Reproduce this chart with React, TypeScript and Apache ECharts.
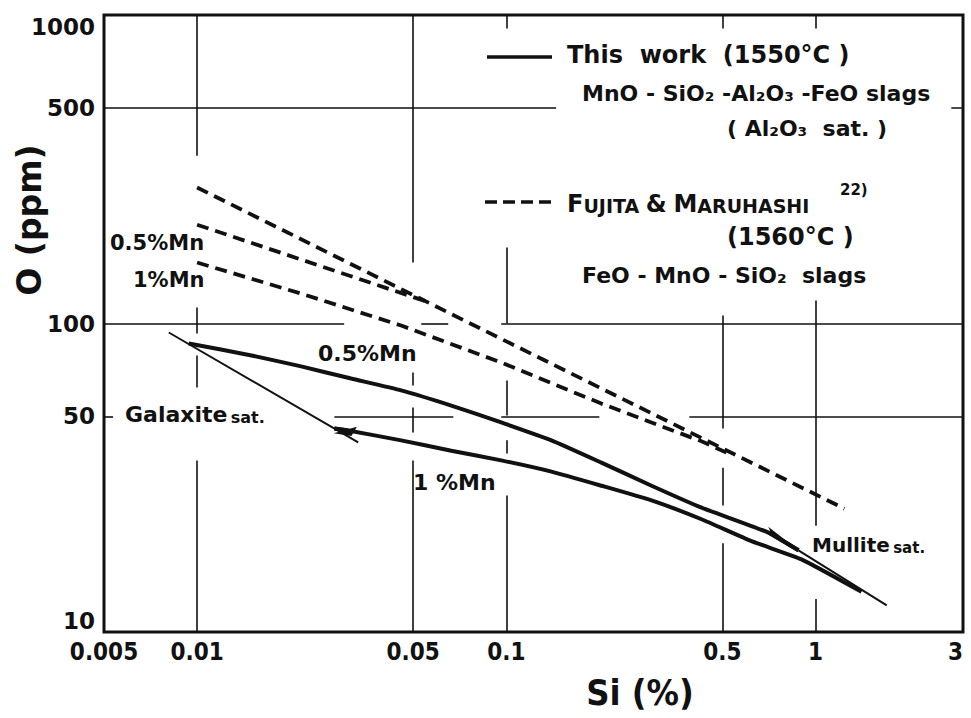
import React, { useEffect, useRef } from "react";
import * as echarts from "echarts";

// ---- axes ----
const xTickValues = [0.005, 0.01, 0.05, 0.1, 0.5, 1, 3];
const xTickLabels = ["0.005", "0.01", "0.05", "0.1", "0.5", "1", "3"];
const yTickValues = [10, 50, 100, 500, 1000];
const yTickLabels = ["10", "50", "100", "500", "1000"];

// ---- This work (1550°C), solid curves: Si (%) vs O (ppm) ----
const thisWork05MnSi = [0.0094, 0.015, 0.0217, 0.0315, 0.0457, 0.0664, 0.0963, 0.14, 0.203, 0.295, 0.428, 0.705, 0.881];
const thisWork05MnO = [86.1, 78.8, 72.6, 66.3, 60.7, 54.2, 47.8, 41.8, 35.4, 29.8, 25.3, 21.0, 18.4];

const thisWork1MnSi = [0.0278, 0.0308, 0.0457, 0.0664, 0.0963, 0.14, 0.203, 0.295, 0.428, 0.621, 0.901, 1.409];
const thisWork1MnO = [45.7, 45.0, 41.8, 38.7, 36.0, 33.1, 29.8, 26.7, 23.2, 19.7, 17.2, 13.5];

// saturation boundaries
const galaxiteSatSi = [0.0081, 0.0332];
const galaxiteSatO = [93.5, 41.2];
const mulliteSatSi = [0.881, 1.7];
const mulliteSatO = [18.4, 12.2];

// ---- Fujita & Maruhashi (1560°C), dashed curves ----
const fujitaTopSi = [0.01, 0.1, 1.24];
const fujitaTopO = [276, 87.5, 25.1];
const fujita05MnSi = [0.01, 0.055];
const fujita05MnO = [209, 118];
const fujita1MnSi = [0.01, 0.0217, 0.0457, 0.0964, 0.203, 0.428, 0.515];
const fujita1MnO = [157.6, 125, 98.5, 74.7, 55, 41.5, 38.2];

// ---- ruled grid pieces (the grid is interrupted around texts and curves) ----
// [axis the rule is fixed on, value, from, to]
const gridRules: [string, number, number, number][] = [
  ["y", 500, 0.005, 0.145],
  ["y", 500, 2.75, 3],
  ["y", 100, 0.005, 0.0299],
  ["y", 100, 0.0531, 0.0649],
  ["y", 100, 0.0963, 3],
  ["y", 50, 0.005, 0.00535],
  ["y", 50, 0.0278, 0.0674],
  ["y", 50, 0.0963, 0.2],
  ["y", 50, 0.391, 3],
  ["x", 0.01, 350, 1000],
  ["x", 0.01, 92.8, 112.7],
  ["x", 0.01, 62, 78.8],
  ["x", 0.01, 10, 36],
  ["x", 0.05, 157.7, 1000],
  ["x", 0.05, 63, 69.4],
  ["x", 0.05, 44.3, 53.4],
  ["x", 0.05, 10, 36],
  ["x", 0.1, 904, 1000],
  ["x", 0.1, 100, 176.4],
  ["x", 0.1, 50.3, 65.3],
  ["x", 0.1, 37.9, 41.8],
  ["x", 0.1, 10, 27.7],
  ["x", 0.5, 904, 1000],
  ["x", 0.5, 45.7, 106.2],
  ["x", 0.5, 25.7, 34.1],
  ["x", 0.5, 10, 19.4],
  ["x", 1, 904, 1000],
  ["x", 1, 22.1, 118.7],
  ["x", 1, 10, 12.8],
];

const FONT = "'DejaVu Sans', 'Noto Sans', sans-serif";
const NARROW = "'DejaVu Sans Condensed', 'Liberation Sans Narrow', 'DejaVu Sans', sans-serif";
const INK = "#111";

const pairs = (xs: number[], ys: number[]) => xs.map((x, i) => [x, ys[i]]);

// thin one-sided arrow heads (tip at the centre of the symbol box)
const harpoonLeftBarb = "path://M0,-38 M5,0 M0,0 L-5,38 L0,31 Z";
const harpoonRightBarb = "path://M0,-22 M5,0 M0,0 L5,22 L0,18 Z";

function text(x: number, y: number, str: string, size: number, extra: any = {}) {
  return {
    type: "text",
    x,
    y,
    silent: true,
    z: 20,
    style: {
      text: str,
      fill: INK,
      fontFamily: FONT,
      fontWeight: "bold",
      fontSize: size,
      align: "left",
      textAlign: "left",
      verticalAlign: "middle",
      textVerticalAlign: "middle",
      ...extra,
    },
  };
}

function arrowMark(from: number[], to: number[], symbol: string, size: number[]) {
  return {
    silent: true,
    animation: false,
    symbol: ["none", symbol],
    symbolSize: size,
    label: { show: false },
    emphasis: { disabled: true },
    lineStyle: { color: INK, width: 4, type: "solid" },
    itemStyle: { color: INK },
    data: [[{ coord: from }, { coord: to }]],
  };
}

export default function App() {
  const ref = useRef<HTMLDivElement>(null);

  useEffect(() => {
    if (!ref.current) return;
    const chart = echarts.init(ref.current, null, { renderer: "svg" });

    const up = pairs(thisWork05MnSi, thisWork05MnO);
    const low = pairs(thisWork1MnSi, thisWork1MnO);

    const ruleData = gridRules.map(([axis, v, a, b]) => ({
      coords: axis === "y" ? [[a, v], [b, v]] : [[v, a], [v, b]],
    }));

    const dashed = (name: string, xs: number[], ys: number[]) => ({
      name,
      type: "line",
      data: pairs(xs, ys),
      symbol: "none",
      showSymbol: false,
      silent: true,
      z: 4,
      lineStyle: { color: INK, width: 3.8, type: [12, 7] },
    });

    const thin = (name: string, xs: number[], ys: number[]) => ({
      name,
      type: "line",
      data: pairs(xs, ys),
      symbol: "none",
      showSymbol: false,
      silent: true,
      z: 4,
      lineStyle: { color: INK, width: 2 },
    });

    const option: any = {
      animation: false,
      backgroundColor: "#fff",
      grid: {
        left: 104,
        right: 8,
        top: 15,
        bottom: 86,
        show: true,
        borderColor: INK,
        borderWidth: 3,
        backgroundColor: "transparent",
      },
      xAxis: {
        type: "log",
        logBase: 10,
        min: 0.005,
        max: 3,
        axisLine: { show: false },
        axisTick: { show: false },
        splitLine: { show: false },
        minorSplitLine: { show: false },
        axisLabel: {
          customValues: xTickValues,
          formatter: (v: number) => {
            const i = xTickValues.findIndex((t) => Math.abs(t - v) / t < 1e-6);
            return i >= 0 ? xTickLabels[i] : "";
          },
          color: INK,
          fontFamily: NARROW,
          fontWeight: "bold",
          fontSize: 24,
          margin: 8,
          alignMaxLabel: "right",
        },
      },
      yAxis: {
        type: "log",
        logBase: 10,
        min: 10,
        max: 1000,
        axisLine: { show: false },
        axisTick: { show: false },
        splitLine: { show: false },
        minorSplitLine: { show: false },
        axisLabel: {
          customValues: yTickValues,
          formatter: (v: number) => {
            const i = yTickValues.findIndex((t) => Math.abs(t - v) / t < 1e-6);
            return i >= 0 ? yTickLabels[i] : "";
          },
          color: INK,
          fontFamily: FONT,
          fontWeight: "bold",
          fontSize: 23,
          margin: 9,
          verticalAlignMinLabel: "bottom",
          verticalAlignMaxLabel: "top",
        },
      },
      series: [
        {
          name: "grid rules",
          type: "lines",
          coordinateSystem: "cartesian2d",
          silent: true,
          z: 1,
          lineStyle: { color: INK, width: 1.6, opacity: 1 },
          data: ruleData,
        },
        dashed("Fujita upper", fujitaTopSi, fujitaTopO),
        dashed("Fujita 0.5%Mn", fujita05MnSi, fujita05MnO),
        dashed("Fujita 1%Mn", fujita1MnSi, fujita1MnO),
        thin("Galaxite sat.", galaxiteSatSi, galaxiteSatO),
        thin("Mullite sat.", mulliteSatSi, mulliteSatO),
        {
          name: "0.5%Mn",
          type: "line",
          data: up,
          symbol: "none",
          showSymbol: false,
          smooth: 0.15,
          silent: true,
          z: 5,
          lineStyle: { color: INK, width: 4 },
          markLine: arrowMark(up[up.length - 2], up[up.length - 1], harpoonLeftBarb, [10, 76]),
        },
        {
          name: "1%Mn",
          type: "line",
          data: low,
          symbol: "none",
          showSymbol: false,
          smooth: 0.15,
          silent: true,
          z: 5,
          lineStyle: { color: INK, width: 4 },
          markLine: arrowMark(low[1], low[0], harpoonRightBarb, [10, 44]),
        },
      ],
      graphic: [
        // axis titles
        text(29, 220, "O (ppm)", 33, { align: "center", textAlign: "center", rotation: 0 }),
        text(640, 692, "Si (%)", 36, { align: "center", textAlign: "center", fontFamily: NARROW }),

        // legend
        {
          type: "line",
          silent: true,
          z: 20,
          shape: { x1: 487, y1: 57, x2: 552, y2: 57 },
          style: { stroke: INK, lineWidth: 3.5 },
        },
        text(567, 55, "This  work  (1550°C )", 24),
        text(582, 93, "MnO - SiO₂ -Al₂O₃ -FeO slags", 22),
        text(727, 128, "( Al₂O₃  sat. )", 22),
        {
          type: "line",
          silent: true,
          z: 20,
          shape: { x1: 485, y1: 202, x2: 552, y2: 202 },
          style: { stroke: INK, lineWidth: 3.5, lineDash: [12, 6] },
        },
        {
          type: "text",
          x: 567,
          y: 202,
          silent: true,
          z: 20,
          style: {
            text: "{b|F}{s|UJITA}  {b|&}  {b|M}{s|ARUHASHI}",
            fill: INK,
            align: "left",
            textAlign: "left",
            verticalAlign: "middle",
            textVerticalAlign: "middle",
            rich: {
              b: { fontFamily: FONT, fontWeight: "bold", fontSize: 24, fill: INK, verticalAlign: "bottom", lineHeight: 27 },
              s: { fontFamily: FONT, fontWeight: "bold", fontSize: 19, fill: INK, verticalAlign: "bottom", lineHeight: 24 },
            },
          },
        },
        text(840, 190, "22)", 15),
        text(727, 237, "(1560°C )", 24),
        text(582, 275, "FeO - MnO - SiO₂  slags", 22),

        // curve annotations
        text(110, 243, "0.5%Mn", 21),
        text(133, 280, "1%Mn", 21),
        text(318, 353, "0.5%Mn", 22),
        text(413, 482, "1 %Mn", 22),
        {
          type: "text",
          x: 125,
          y: 412,
          silent: true,
          z: 20,
          style: {
            text: "{a|Galaxite} {b|sat.}",
            fill: INK,
            align: "left",
            textAlign: "left",
            verticalAlign: "middle",
            textVerticalAlign: "middle",
            rich: {
              a: { fontFamily: FONT, fontWeight: "bold", fontSize: 22, fill: INK, verticalAlign: "bottom", lineHeight: 26 },
              b: { fontFamily: FONT, fontWeight: "bold", fontSize: 16, fill: INK, verticalAlign: "bottom", lineHeight: 22 },
            },
          },
        },
        {
          type: "text",
          x: 812,
          y: 543,
          silent: true,
          z: 20,
          style: {
            text: "{a|Mullite} {b|sat.}",
            fill: INK,
            align: "left",
            textAlign: "left",
            verticalAlign: "middle",
            textVerticalAlign: "middle",
            rich: {
              a: { fontFamily: FONT, fontWeight: "bold", fontSize: 20, fill: INK, verticalAlign: "bottom", lineHeight: 24 },
              b: { fontFamily: FONT, fontWeight: "bold", fontSize: 15, fill: INK, verticalAlign: "bottom", lineHeight: 20 },
            },
          },
        },
      ],
    };

    // vertical axis title
    option.graphic[0].rotation = Math.PI / 2;

    chart.setOption(option);
    return () => chart.dispose();
  }, []);

  return (
    <div
      ref={ref}
      style={{ position: "fixed", left: 0, top: 0, width: 971, height: 718, background: "#fff" }}
    />
  );
}
